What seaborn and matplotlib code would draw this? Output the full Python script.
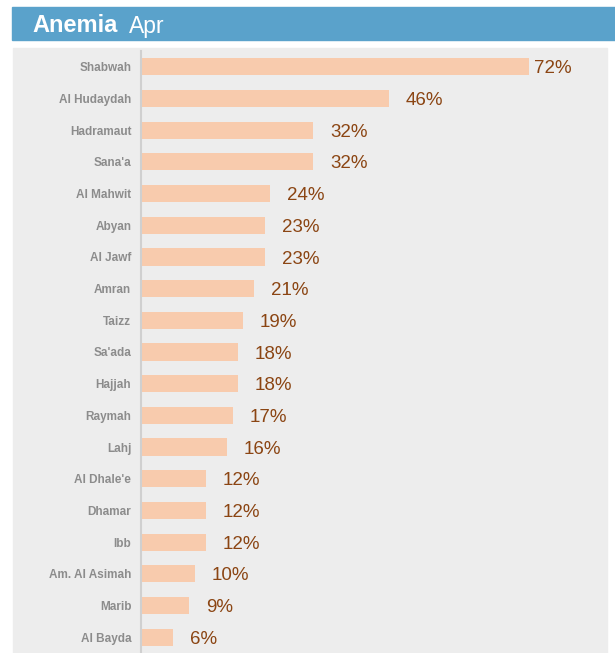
import matplotlib
matplotlib.use("Agg")
import matplotlib.pyplot as plt
import seaborn as sns
import pandas as pd
from matplotlib.patches import Rectangle

# data
governorates = ["Shabwah", "Al Hudaydah", "Hadramaut", "Sana'a", "Al Mahwit", "Abyan",
                "Al Jawf", "Amran", "Taizz", "Sa'ada", "Hajjah", "Raymah", "Lahj",
                "Al Dhale'e", "Dhamar", "Ibb", "Am. Al Asimah", "Marib", "Al Bayda"]
anemia_pct = [72, 46, 32, 32, 24, 23, 23, 21, 19, 18, 18, 17, 16, 12, 12, 12, 10, 9, 6]
title_main = "Anemia"
title_sub = "Apr"

df = pd.DataFrame({"gov": governorates, "pct": anemia_pct})

sns.set_theme(style="white")
plt.rcParams['font.family'] = ['Liberation Sans Narrow', 'Liberation Sans', 'DejaVu Sans']

W, H = 615, 653
fig = plt.figure(figsize=(W / 100, H / 100), dpi=100)

# header band
fig.patches.append(Rectangle((12 / W, 1 - 40 / H), (W - 12) / W, 33 / H,
                             transform=fig.transFigure, color="#5AA2CB", zorder=-10))
# grey panel behind the chart
fig.patches.append(Rectangle((13 / W, 0), (607 - 13) / W, 1 - 48 / H,
                             transform=fig.transFigure, color="#EDEDED", zorder=-10))
fig.text(32 / W, 1 - 25 / H, title_main, color="white", fontsize=17, fontweight="bold",
         va="center", ha="left")
fig.text(129 / W, 1 - 26 / H, title_sub, color="white", fontsize=16.5,
         va="center", ha="left")

ax = fig.add_axes([141 / W, 0, (607 - 141) / W, 1 - 51 / H])
ax.patch.set_alpha(0)
sns.barplot(data=df, x="pct", y="gov", orient="h", color="#F8CBAD", saturation=1,
            width=0.54, linewidth=0, ax=ax)

for i, v in enumerate(anemia_pct):
    ax.annotate(f"{v}%", (v, i), xytext=(12 if i else 4, -1.5), textcoords="offset points",
                va="center", ha="left", color="#8B4513", fontsize=13.5)

ax.set_xlim(0, 86.5)
ax.set_ylim(18.5, -0.5)
ax.set_xlabel("")
ax.set_ylabel("")
ax.set_xticks([])
ax.tick_params(axis="y", length=0, pad=7)
for lab in ax.get_yticklabels():
    lab.set_color("#8C8C8C")
    lab.set_fontweight("bold")
    lab.set_fontsize(8.5)
for s in ["top", "right", "bottom"]:
    ax.spines[s].set_visible(False)
ax.spines["left"].set_color("#D0D0D0")
ax.spines["left"].set_linewidth(1.5)

fig.savefig("out.png", dpi=100)
